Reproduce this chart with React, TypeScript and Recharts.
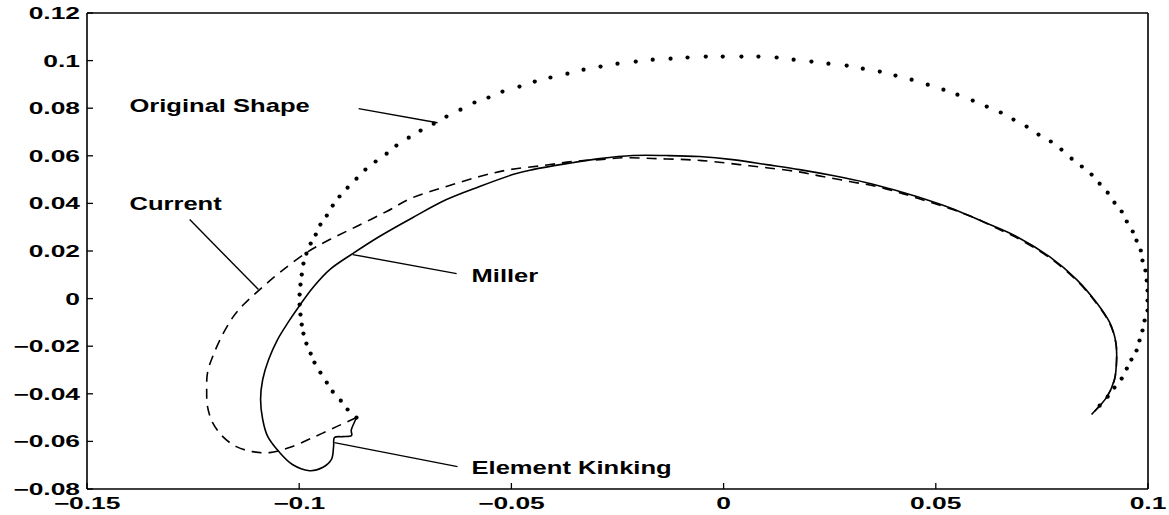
import React from 'react';
import { ComposedChart, Line, Scatter, XAxis, YAxis, ReferenceLine, ReferenceDot } from 'recharts';

// axis ticks
const xTicks = [-0.15, -0.1, -0.05, 0, 0.05, 0.1];
const yTicks = [-0.08, -0.06, -0.04, -0.02, 0, 0.02, 0.04, 0.06, 0.08, 0.1, 0.12];

// dotted curve: original shape (each dot)
const originalShape: [number, number][] = [
  [-0.0865, -0.05], [-0.0886, -0.0466], [-0.0902, -0.0429], [-0.0921, -0.0391], [-0.0935, -0.0353],
  [-0.095, -0.0311], [-0.0964, -0.0269], [-0.0973, -0.0231], [-0.0983, -0.0189], [-0.099, -0.0147],
  [-0.0994, -0.0109], [-0.0997, -0.0067], [-0.0999, -0.0025], [-0.0999, 0.0017], [-0.0997, 0.0059],
  [-0.0994, 0.0101], [-0.099, 0.0147], [-0.0983, 0.0189], [-0.0973, 0.0231], [-0.0961, 0.0269],
  [-0.095, 0.0311], [-0.0935, 0.0349], [-0.0921, 0.0391], [-0.0905, 0.0429], [-0.0886, 0.0466],
  [-0.0865, 0.0504], [-0.0844, 0.0542], [-0.082, 0.0576], [-0.0794, 0.0609], [-0.0771, 0.0643],
  [-0.0742, 0.0676], [-0.0714, 0.0706], [-0.0683, 0.0735], [-0.0653, 0.0765], [-0.062, 0.0794],
  [-0.0587, 0.0824], [-0.0554, 0.0845], [-0.0521, 0.087], [-0.0481, 0.0891], [-0.0445, 0.0912],
  [-0.0408, 0.0929], [-0.0368, 0.0945], [-0.033, 0.0962], [-0.029, 0.0975], [-0.025, 0.0987],
  [-0.0207, 0.0996], [-0.0167, 0.1004], [-0.0125, 0.1008], [-0.0085, 0.1013], [-0.0042, 0.1017],
  [-0.0002, 0.1017], [0.0042, 0.1017], [0.0082, 0.1017], [0.0125, 0.1013], [0.0165, 0.1004],
  [0.0207, 0.0996], [0.0247, 0.0987], [0.029, 0.0979], [0.0328, 0.0966], [0.0368, 0.0954],
  [0.0405, 0.0937], [0.0443, 0.092], [0.0481, 0.0899], [0.0518, 0.0878], [0.0551, 0.0857],
  [0.0587, 0.0832], [0.062, 0.0807], [0.0653, 0.0782], [0.0683, 0.0752], [0.0714, 0.0723],
  [0.0742, 0.0689], [0.0771, 0.066], [0.0796, 0.0626], [0.082, 0.0588], [0.0844, 0.0555],
  [0.0867, 0.0521], [0.0886, 0.0483], [0.0905, 0.0445], [0.0921, 0.0403], [0.0938, 0.0366],
  [0.095, 0.0324], [0.0964, 0.0282], [0.0973, 0.0244], [0.0983, 0.0202], [0.0987, 0.016],
  [0.0994, 0.0118], [0.0997, 0.0076], [0.0999, 0.0034], [0.0999, -0.0008], [0.0999, -0.005],
  [0.0992, -0.0092], [0.0987, -0.0134], [0.098, -0.0176], [0.0973, -0.0218], [0.0961, -0.0256],
  [0.095, -0.0294], [0.0938, -0.0336], [0.0921, -0.0374], [0.0905, -0.0412], [0.0886, -0.045],
];

// dashed curve: current
const currentShape: [number, number][] = [
  [-0.0865, -0.05], [-0.0912, -0.0538], [-0.0968, -0.0584], [-0.1023, -0.0626], [-0.107, -0.0647],
  [-0.111, -0.0643], [-0.1148, -0.0622], [-0.118, -0.058], [-0.1204, -0.0521], [-0.1216, -0.0454],
  [-0.1218, -0.0382], [-0.1216, -0.0311], [-0.1204, -0.0244], [-0.1183, -0.016], [-0.1157, -0.008],
  [-0.1131, -0.0025], [-0.1093, 0.0038], [-0.1046, 0.0109], [-0.0983, 0.0193], [-0.0928, 0.0248],
  [-0.0865, 0.0303], [-0.0794, 0.0366], [-0.0733, 0.0424], [-0.0653, 0.0471], [-0.0575, 0.0513],
  [-0.0504, 0.0542], [-0.0426, 0.0559], [-0.0356, 0.0576], [-0.0292, 0.0584], [-0.0229, 0.0592],
  [-0.0158, 0.0588], [-0.0087, 0.0584], [-0.0026, 0.0576], [0.0038, 0.0563], [0.0101, 0.055],
  [0.0172, 0.0534], [0.0233, 0.0513], [0.0297, 0.0492], [0.0361, 0.0471], [0.0422, 0.0441],
  [0.0481, 0.0408], [0.054, 0.0374], [0.0596, 0.0336], [0.065, 0.029], [0.069, 0.0256],
  [0.0768, 0.0172], [0.0832, 0.0076], [0.0879, -0.0021], [0.091, -0.0105], [0.0924, -0.0185],
  [0.0926, -0.0256], [0.0921, -0.034], [0.0902, -0.0416], [0.0867, -0.0487],
];

// solid curve: Miller, with the element kink near the lower left
const millerShape: [number, number][] = [
  [-0.0865, -0.05], [-0.0877, -0.055], [-0.0877, -0.0576], [-0.0898, -0.058], [-0.0917, -0.0584],
  [-0.0919, -0.0622], [-0.0924, -0.0676], [-0.0945, -0.071], [-0.0976, -0.0723], [-0.1016, -0.0697],
  [-0.1046, -0.0647], [-0.1074, -0.058], [-0.1086, -0.0508], [-0.1091, -0.0424], [-0.1086, -0.034],
  [-0.1072, -0.0256], [-0.1051, -0.0172], [-0.1025, -0.0097], [-0.0999, -0.0029], [-0.0968, 0.0046],
  [-0.0928, 0.0122], [-0.0874, 0.0189], [-0.0811, 0.0261], [-0.0733, 0.034], [-0.0653, 0.0416],
  [-0.0575, 0.0471], [-0.0497, 0.0521], [-0.045, 0.0542], [-0.037, 0.0567], [-0.0292, 0.0588],
  [-0.0214, 0.0601], [-0.0134, 0.0601], [-0.0057, 0.0597], [0.0021, 0.0584], [0.0101, 0.0563],
  [0.0179, 0.0542], [0.0257, 0.0517], [0.0337, 0.0487], [0.0415, 0.045], [0.0455, 0.0429],
  [0.0533, 0.0382], [0.061, 0.0324], [0.069, 0.0261], [0.0768, 0.0176], [0.0832, 0.008],
  [0.0879, -0.0017], [0.091, -0.0101], [0.0924, -0.0181], [0.0926, -0.0256], [0.0921, -0.034],
  [0.0902, -0.0416], [0.0867, -0.0487],
];

// leader lines and their labels
const leaders = [
  { x1: -0.086, y1: 0.0798, x2: -0.0674, y2: 0.0739 },
  { x1: -0.1258, y1: 0.0332, x2: -0.1096, y2: 0.0038 },
  { x1: -0.0874, y1: 0.0185, x2: -0.0629, y2: 0.0105 },
  { x1: -0.0917, y1: -0.0605, x2: -0.0627, y2: -0.0706 },
];
const labels = [
  { text: 'Original Shape', x: -0.14, y: 0.0782 },
  { text: 'Current', x: -0.14, y: 0.0374 },
  { text: 'Miller', x: -0.0594, y: 0.0071 },
  { text: 'Element Kinking', x: -0.0594, y: -0.0735 },
];

const toRows = (pts: [number, number][]) => pts.map(([x, y]) => ({ x, y }));

const fmt = (v: number) => (v === 0 ? '0' : (v < 0 ? '\u2212' : '') + String(Math.abs(v)));

// Catmull-Rom through the read points, so the traced curves are not polygonal
const smoothCurve = (context: any) => {
  let pts: number[][] = [];
  return {
    areaStart() {},
    areaEnd() {},
    lineStart() {
      pts = [];
    },
    point(x: number, y: number) {
      pts.push([+x, +y]);
    },
    lineEnd() {
      const n = pts.length;
      if (!n) return;
      context.moveTo(pts[0][0], pts[0][1]);
      for (let i = 0; i < n - 1; i++) {
        const p0 = pts[Math.max(i - 1, 0)];
        const p1 = pts[i];
        const p2 = pts[i + 1];
        const p3 = pts[Math.min(i + 2, n - 1)];
        context.bezierCurveTo(
          p1[0] + (p2[0] - p0[0]) / 6,
          p1[1] + (p2[1] - p0[1]) / 6,
          p2[0] - (p3[0] - p1[0]) / 6,
          p2[1] - (p3[1] - p1[1]) / 6,
          p2[0],
          p2[1],
        );
      }
    },
  };
};

const FONT = '"Liberation Sans", Arial, Helvetica, sans-serif';

const StretchText = ({ x, y, anchor, size, sx, children }: any) => (
  <text
    transform={`translate(${x},${y}) scale(${sx},1)`}
    textAnchor={anchor}
    fontFamily={FONT}
    fontWeight="bold"
    fontSize={size}
    fill="#000"
  >
    {children}
  </text>
);

const TICK = 6;
const tickStroke = { stroke: '#000', strokeWidth: 1.3 };

const leftTick = ({ x, y, payload }: any) => (
  <g>
    <line x1={x} y1={y} x2={x + TICK} y2={y} {...tickStroke} />
    <StretchText x={x - 7} y={y + 6} anchor="end" size={16} sx={1.65}>
      {fmt(payload.value)}
    </StretchText>
  </g>
);

const bottomTick = ({ x, y, payload }: any) => (
  <g>
    <line x1={x} y1={y} x2={x} y2={y - TICK} {...tickStroke} />
    <StretchText x={x} y={y + 20} anchor="middle" size={16} sx={1.65}>
      {fmt(payload.value)}
    </StretchText>
  </g>
);

const topTick = ({ x, y }: any) => <line x1={x} y1={y} x2={x} y2={y + TICK} {...tickStroke} />;
const rightTick = ({ x, y }: any) => <line x1={x} y1={y} x2={x - TICK} y2={y} {...tickStroke} />;

const axisLine = { stroke: '#000', strokeWidth: 1.6 };

export default function App() {
  return (
    <div style={{ position: 'absolute', left: 0, top: 0, width: 1169, height: 515, background: '#fff' }}>
      <ComposedChart width={1169} height={515} margin={{ top: 12, right: 20, bottom: 0, left: 0 }}>
        <XAxis
          type="number"
          dataKey="x"
          domain={[-0.15, 0.1]}
          ticks={xTicks}
          interval={0}
          allowDataOverflow
          height={26}
          tickSize={0}
          tickMargin={0}
          tickLine={false}
          axisLine={axisLine}
          tick={bottomTick}
        />
        <XAxis
          xAxisId="top"
          orientation="top"
          type="number"
          domain={[-0.15, 0.1]}
          ticks={xTicks}
          interval={0}
          height={1}
          tickSize={0}
          tickMargin={0}
          tickLine={false}
          axisLine={axisLine}
          tick={topTick}
        />
        <YAxis
          type="number"
          dataKey="y"
          domain={[-0.08, 0.12]}
          ticks={yTicks}
          interval={0}
          allowDataOverflow
          width={87}
          tickSize={0}
          tickMargin={0}
          tickLine={false}
          axisLine={axisLine}
          tick={leftTick}
        />
        <YAxis
          yAxisId="right"
          orientation="right"
          type="number"
          domain={[-0.08, 0.12]}
          ticks={yTicks}
          interval={0}
          width={1}
          tickSize={0}
          tickMargin={0}
          tickLine={false}
          axisLine={axisLine}
          tick={rightTick}
        />

        <Line
          data={toRows(currentShape)}
          dataKey="y"
          type={smoothCurve as any}
          stroke="#000"
          strokeWidth={1.6}
          strokeDasharray="10 7"
          dot={false}
          activeDot={false}
          isAnimationActive={false}
        />
        <Line
          data={toRows(millerShape)}
          dataKey="y"
          type={smoothCurve as any}
          stroke="#000"
          strokeWidth={1.6}
          dot={false}
          activeDot={false}
          isAnimationActive={false}
        />
        <Scatter
          data={toRows(originalShape)}
          dataKey="y"
          fill="#000"
          isAnimationActive={false}
          shape={(p: any) => <circle cx={p.cx} cy={p.cy} r={2.1} fill="#000" />}
        />

        {leaders.map((l, i) => (
          <ReferenceLine
            key={`leader-${i}`}
            segment={[{ x: l.x1, y: l.y1 }, { x: l.x2, y: l.y2 }]}
            stroke="#000"
            strokeWidth={1.4}
            ifOverflow="visible"
          />
        ))}
        {labels.map((l) => (
          <ReferenceDot
            key={l.text}
            x={l.x}
            y={l.y}
            r={0}
            ifOverflow="visible"
            shape={(p: any) => (
              <StretchText x={p.cx} y={p.cy} anchor="start" size={18} sx={1.42}>
                {l.text}
              </StretchText>
            )}
          />
        ))}
      </ComposedChart>
    </div>
  );
}
